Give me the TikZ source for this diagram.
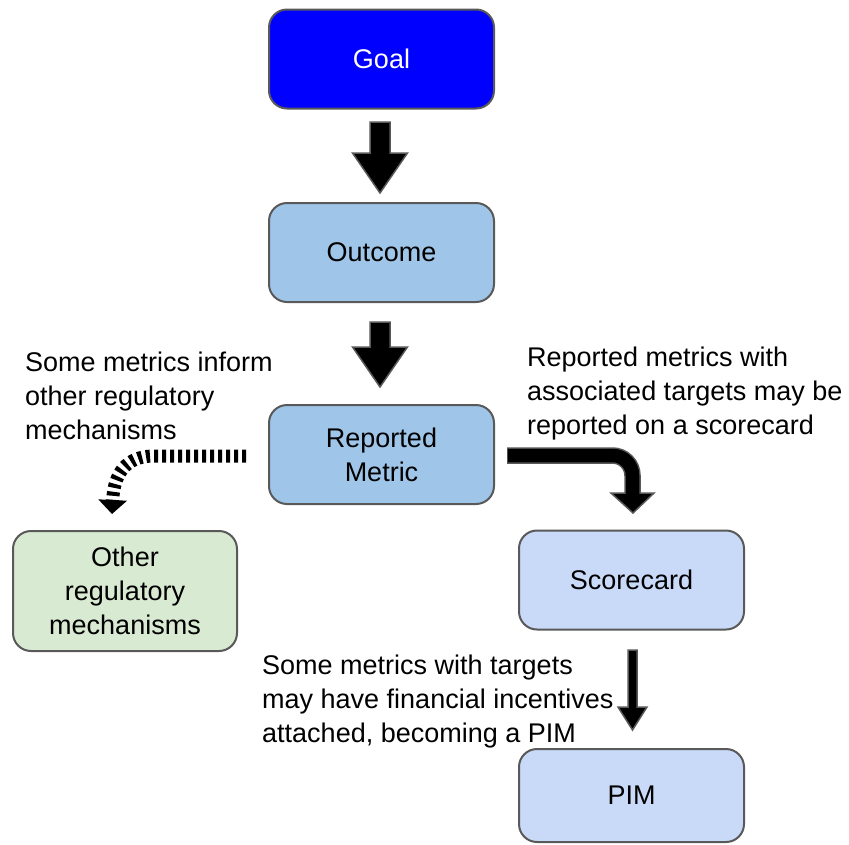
\documentclass[tikz,border=0pt]{standalone}
\usepackage{fontspec}
\setmainfont{Liberation Sans}
\usetikzlibrary{arrows.meta,calc}
\definecolor{goalblue}{HTML}{0000FF}
\definecolor{midblue}{HTML}{9FC5E8}
\definecolor{paleblue}{HTML}{C9DAF8}
\definecolor{palegreen}{HTML}{D9EAD3}
\definecolor{edgegray}{HTML}{595959}
\newcommand\fatdown[5]{%
  \draw[blockarrow] let \p1=(#1), \p2=(#2) in
    (\x1-#3pt,\y1) -- (\x1+#3pt,\y1) -- (\x1+#3pt,\y2+#5pt) -- (\x1+#4pt,\y2+#5pt)
    -- (\x2,\y2) -- (\x1-#4pt,\y2+#5pt) -- (\x1-#3pt,\y2+#5pt) -- cycle;}
\begin{document}
\begin{tikzpicture}[x=1pt,y=-1pt,
  box/.style={draw=edgegray, line width=2pt, rounded corners=18pt,
    minimum width=225pt, minimum height=99pt, align=center,
    font=\fontsize{27}{34}\selectfont, inner sep=0pt, outer sep=0pt},
  lbl/.style={align=left, font=\fontsize{27}{34}\selectfont, inner sep=0pt, anchor=north west},
  blockarrow/.style={fill=black, draw=edgegray, line width=1.5pt, line join=miter},
]
\useasboundingbox (0,0) rectangle (849,844);
\fill[white] (0,0) rectangle (849,844);

% boxes
\node[box, fill=goalblue, text=white] (goal) at (381.5,59) {Goal};
\node[box, fill=midblue] (outcome) at (381.5,252.5) {Outcome};
\node[box, fill=midblue] (reported) at (381.5,454.5) {Reported\\Metric};
\node[box, fill=paleblue] (score) at (631.5,580) {Scorecard};
\node[box, fill=paleblue, minimum height=93pt] (pim) at (631.5,795.5) {PIM};
\node[box, fill=palegreen, minimum width=224pt, minimum height=120pt] (other) at (125,591) {Other\\regulatory\\mechanisms};

% labels
\node[lbl] (l1) at (25,351.5) {Some metrics inform\\other regulatory\\mechanisms};
\node[lbl] (l2) at (527,346.5) {Reported metrics with\\associated targets may be\\reported on a scorecard};
\node[lbl] (l3) at (262,654.5) {Some metrics with targets\\may have financial incentives\\attached, becoming a PIM};

% straight block arrows
\coordinate (a1top) at (380,122);
\coordinate (a1tip) at (380,193);
\fatdown{a1top}{a1tip}{10}{27.5}{40}
\coordinate (a2top) at (380,322);
\coordinate (a2tip) at (380,387);
\fatdown{a2top}{a2tip}{10}{27.5}{40}
\coordinate (a3top) at (632.5,650);
\coordinate (a3tip) at (632.5,730);
\fatdown{a3top}{a3tip}{4.5}{14.5}{23}

% bent arrow reported -> scorecard
\coordinate (b1) at (507,455.5);
\coordinate (bc) at (632.5,455.5);
\coordinate (b2) at (632.5,494.5);
\coordinate (btip) at (633,513);
\draw[edgegray, line width=16.5pt, rounded corners=20pt] (b1) -- (bc) -- (b2);
\draw[blockarrow] (611,493) -- (654,493) -- (btip) -- cycle;
\draw[black, line width=13.5pt, rounded corners=20pt] ($(b1)+(0.75,0)$) -- (bc) -- ($(b2)+(0,1)$);

% dashed arrow reported -> other
\coordinate (d1) at (246,456);
\coordinate (d2) at (112,514);
\draw[black, line width=13pt, dash pattern=on 4pt off 4pt,
  -{Triangle[width=28pt,length=14pt]}]
  (d1) -- (152,456) .. controls (127,457) and (114,472) .. (d2);
\end{tikzpicture}
\end{document}
